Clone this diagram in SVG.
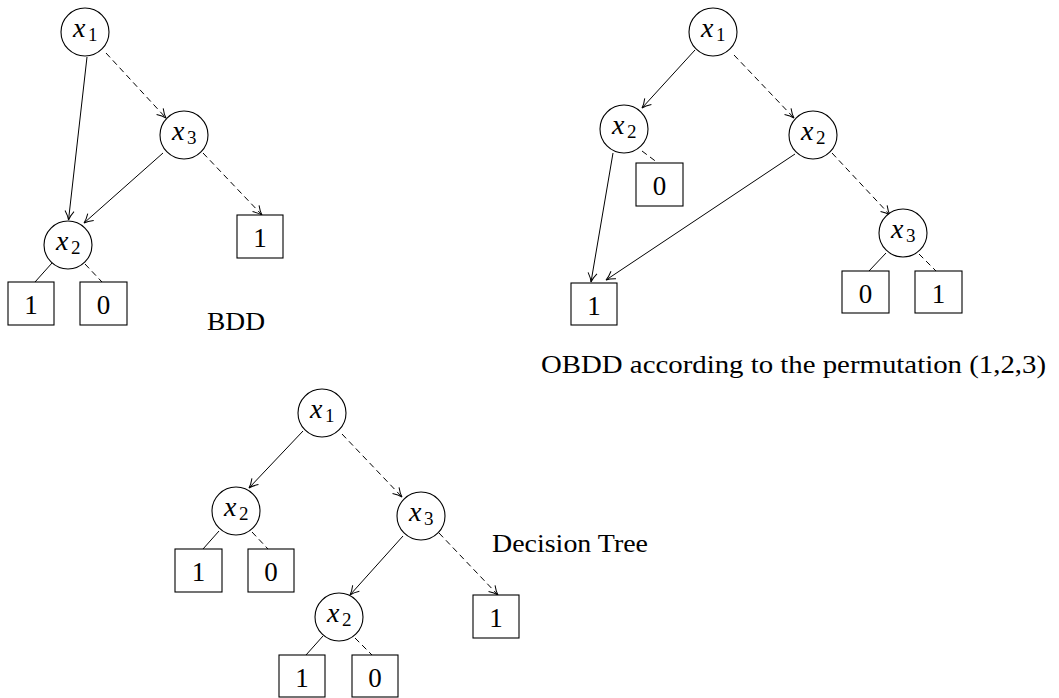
<svg xmlns="http://www.w3.org/2000/svg" width="1059" height="698" viewBox="0 0 1059 698">
<style>
.node circle{fill:#fff;stroke:#000;stroke-width:1.1}
.leaf rect{fill:#fff;stroke:#000;stroke-width:1.1}
.v{font-family:"Liberation Serif",serif;font-style:italic;font-size:28px;fill:#000}
.s{font-family:"Liberation Serif",serif;font-style:normal;font-size:19px}
.d{font-family:"Liberation Serif",serif;font-size:27px;fill:#000;text-anchor:middle}
.cap{font-family:"Liberation Serif",serif;font-size:26px;fill:#000}
.e line{stroke:#000;stroke-width:1;fill:none}
.e line.dash{stroke-dasharray:6 4}
</style>
<defs>
<marker id="arr" viewBox="-10 -6 12 12" markerWidth="12" markerHeight="12" refX="0" refY="0" orient="auto" markerUnits="userSpaceOnUse">
<path d="M-9,-4.5 Q-4,-1 0,0 Q-4,1 -9,4.5" fill="none" stroke="#000" stroke-width="1"/>
</marker>
</defs>

<g id="connectors" class="e">
<!-- BDD -->
<line x1="87" y1="57" x2="68.5" y2="220" marker-end="url(#arr)"/>
<line class="dash" x1="106" y1="53" x2="166" y2="118" marker-end="url(#arr)"/>
<line x1="163" y1="153" x2="84" y2="223" marker-end="url(#arr)"/>
<line class="dash" x1="203" y1="153" x2="262" y2="215" marker-end="url(#arr)"/>
<line x1="52" y1="263" x2="35" y2="282"/>
<line class="dash" x1="85" y1="264" x2="102" y2="282"/>
<!-- OBDD -->
<line x1="695" y1="50" x2="642" y2="108" marker-end="url(#arr)"/>
<line class="dash" x1="734" y1="55" x2="794" y2="118" marker-end="url(#arr)"/>
<line x1="613" y1="153" x2="591" y2="282" marker-end="url(#arr)"/>
<line x1="795" y1="154" x2="606" y2="280" marker-end="url(#arr)"/>
<line class="dash" x1="642" y1="151" x2="658" y2="163"/>
<line class="dash" x1="832" y1="153" x2="890" y2="215" marker-end="url(#arr)"/>
<line x1="886" y1="253" x2="869" y2="271"/>
<line class="dash" x1="919" y1="254" x2="936" y2="271"/>
<!-- Decision tree -->
<line x1="303" y1="431" x2="249" y2="488" marker-end="url(#arr)"/>
<line class="dash" x1="342" y1="434" x2="402" y2="497" marker-end="url(#arr)"/>
<line x1="219" y1="531" x2="203" y2="549"/>
<line class="dash" x1="252" y1="532" x2="268" y2="549"/>
<line x1="403" y1="536" x2="350" y2="595" marker-end="url(#arr)"/>
<line class="dash" x1="439" y1="533" x2="498" y2="595" marker-end="url(#arr)"/>
<line x1="323" y1="636" x2="306" y2="655"/>
<line class="dash" x1="355" y1="638" x2="372" y2="655"/>
</g>

<!-- BDD nodes -->
<g id="bdd-x1" class="node"><circle cx="85" cy="32" r="24"/><text class="v" x="73" y="37">x<tspan class="s" x="88" y="41">1</tspan></text></g>
<g id="bdd-x3" class="node"><circle cx="184" cy="135" r="24"/><text class="v" x="172" y="140">x<tspan class="s" x="187" y="144">3</tspan></text></g>
<g id="bdd-x2" class="node"><circle cx="68" cy="245" r="24"/><text class="v" x="56" y="250">x<tspan class="s" x="71" y="254">2</tspan></text></g>
<g id="bdd-t1r" class="leaf"><rect x="237" y="215" width="46" height="43"/><text class="d" x="260" y="247">1</text></g>
<g id="bdd-t1" class="leaf"><rect x="8" y="282" width="46" height="43"/><text class="d" x="31" y="314">1</text></g>
<g id="bdd-t0" class="leaf"><rect x="80" y="282" width="47" height="43"/><text class="d" x="103.5" y="314">0</text></g>
<text id="bdd-label" class="cap" x="207" y="330" textLength="58" lengthAdjust="spacingAndGlyphs">BDD</text>

<!-- OBDD nodes -->
<g id="obdd-x1" class="node"><circle cx="713" cy="32" r="24"/><text class="v" x="701" y="37">x<tspan class="s" x="716" y="41">1</tspan></text></g>
<g id="obdd-x2l" class="node"><circle cx="624" cy="129" r="24"/><text class="v" x="612" y="134">x<tspan class="s" x="627" y="138">2</tspan></text></g>
<g id="obdd-x2r" class="node"><circle cx="813" cy="135" r="24"/><text class="v" x="801" y="140">x<tspan class="s" x="816" y="144">2</tspan></text></g>
<g id="obdd-x3" class="node"><circle cx="903" cy="233" r="24"/><text class="v" x="891" y="238">x<tspan class="s" x="906" y="242">3</tspan></text></g>
<g id="obdd-t0" class="leaf"><rect x="636" y="163" width="47" height="43"/><text class="d" x="659.5" y="195">0</text></g>
<g id="obdd-t1" class="leaf"><rect x="571" y="283" width="46" height="42"/><text class="d" x="594" y="315">1</text></g>
<g id="obdd-t0r" class="leaf"><rect x="842" y="271" width="47" height="42"/><text class="d" x="865.5" y="303">0</text></g>
<g id="obdd-t1r" class="leaf"><rect x="915" y="271" width="47" height="42"/><text class="d" x="938.5" y="303">1</text></g>
<text id="obdd-label" class="cap" x="541" y="373" textLength="505" lengthAdjust="spacingAndGlyphs">OBDD according to the permutation (1,2,3)</text>

<!-- Decision tree nodes -->
<g id="dt-x1" class="node"><circle cx="322" cy="413" r="24"/><text class="v" x="310" y="418">x<tspan class="s" x="325" y="422">1</tspan></text></g>
<g id="dt-x2l" class="node"><circle cx="236" cy="511" r="24"/><text class="v" x="224" y="516">x<tspan class="s" x="239" y="520">2</tspan></text></g>
<g id="dt-x3" class="node"><circle cx="421" cy="516" r="24"/><text class="v" x="409" y="521">x<tspan class="s" x="424" y="525">3</tspan></text></g>
<g id="dt-x2b" class="node"><circle cx="339" cy="617" r="24"/><text class="v" x="327" y="622">x<tspan class="s" x="342" y="626">2</tspan></text></g>
<g id="dt-t1" class="leaf"><rect x="175" y="549" width="47" height="43"/><text class="d" x="198.5" y="581">1</text></g>
<g id="dt-t0" class="leaf"><rect x="248" y="549" width="46" height="43"/><text class="d" x="271" y="581">0</text></g>
<g id="dt-t1r" class="leaf"><rect x="473" y="595" width="46" height="43"/><text class="d" x="496" y="627">1</text></g>
<g id="dt-t1b" class="leaf"><rect x="279" y="655" width="46" height="42"/><text class="d" x="302" y="687">1</text></g>
<g id="dt-t0b" class="leaf"><rect x="352" y="655" width="46" height="42"/><text class="d" x="375" y="687">0</text></g>
<text id="dt-label" class="cap" x="492" y="552" textLength="156" lengthAdjust="spacingAndGlyphs">Decision Tree</text>
</svg>
